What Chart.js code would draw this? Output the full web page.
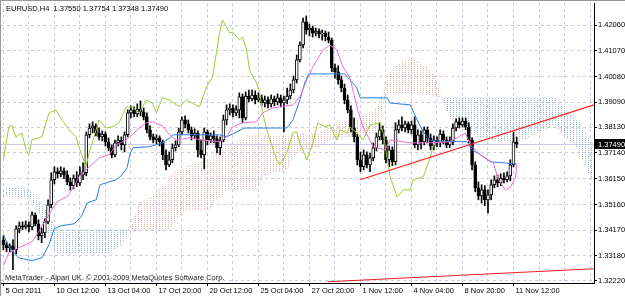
<!DOCTYPE html>
<html><head><meta charset="utf-8">
<script src="https://cdn.jsdelivr.net/npm/chart.js@4.4.0/dist/chart.umd.min.js"></script>
<style>html,body{margin:0;padding:0;background:#fff;overflow:hidden}canvas{display:block}</style>
</head><body>
<canvas id="c" width="625" height="296"></canvas>
<script>
const symbolTitle = 'EURUSD,H4  1.37550 1.37754 1.37348 1.37490';
const watermark = 'MetaTrader - Alpari UK. \u00A9 2001-2009 MetaQuotes Software Corp.';
const timeLabels = ['5 Oct 2011','10 Oct 12:00','13 Oct 04:00','17 Oct 20:00','20 Oct 12:00','25 Oct 04:00','27 Oct 20:00','1 Nov 12:00','4 Nov 04:00','8 Nov 20:00','11 Nov 12:00'];
const labelEvery = 16, gridEvery = 8;
const priceTicks = [1.4206,1.4107,1.4008,1.3909,1.3813,1.3714,1.3615,1.3516,1.3417,1.3318,1.3222];

const open = [
1.3380,1.3361,1.3350,1.3357,1.3342,1.3422,1.3434,1.3430,1.3438,1.3430,
1.3476,1.3442,1.3395,1.3407,1.3449,1.3515,1.3611,1.3642,1.3634,1.3645,
1.3630,1.3603,1.3588,1.3618,1.3599,1.3630,1.3638,1.3784,1.3810,1.3818,
1.3791,1.3776,1.3787,1.3757,1.3734,1.3707,1.3753,1.3764,1.3745,1.3784,
1.3868,1.3880,1.3864,1.3883,1.3872,1.3853,1.3803,1.3776,1.3764,1.3772,
1.3757,1.3707,1.3668,1.3688,1.3734,1.3745,1.3795,1.3841,1.3826,1.3803,
1.3780,1.3791,1.3726,1.3707,1.3795,1.3764,1.3780,1.3768,1.3734,1.3764,
1.3841,1.3880,1.3887,1.3868,1.3880,1.3930,1.3849,1.3933,1.3922,1.3937,
1.3918,1.3926,1.3906,1.3918,1.3903,1.3922,1.3910,1.3926,1.3906,1.3918,
1.3933,1.3956,1.3995,1.4072,1.4129,1.4218,1.4187,1.4194,1.4175,1.4183,
1.4171,1.4175,1.4160,1.4148,1.4041,1.4026,1.3995,1.3964,1.3918,1.3880,
1.3810,1.3776,1.3688,1.3661,1.3707,1.3668,1.3695,1.3734,1.3776,1.3803,
1.3764,1.3688,1.3726,1.3680,1.3803,1.3822,1.3810,1.3826,1.3803,1.3822,
1.3745,1.3784,1.3757,1.3803,1.3772,1.3741,1.3764,1.3753,1.3787,1.3764,
1.3745,1.3761,1.3810,1.3834,1.3822,1.3837,1.3814,1.3764,1.3668,1.3580,
1.3549,1.3572,1.3534,1.3553,1.3592,1.3611,1.3599,1.3618,1.3611,1.3626,
1.3668,1.3755];
const high = [
1.3396,1.3372,1.3365,1.3380,1.3434,1.3449,1.3449,1.3453,1.3449,1.3488,
1.3484,1.3457,1.3426,1.3461,1.3534,1.3638,1.3661,1.3657,1.3661,1.3657,
1.3645,1.3618,1.3630,1.3642,1.3661,1.3676,1.3795,1.3826,1.3834,1.3826,
1.3810,1.3799,1.3795,1.3772,1.3745,1.3764,1.3780,1.3776,1.3795,1.3880,
1.3895,1.3891,1.3903,1.3914,1.3887,1.3868,1.3818,1.3787,1.3784,1.3780,
1.3764,1.3726,1.3718,1.3749,1.3761,1.3810,1.3853,1.3857,1.3841,1.3814,
1.3807,1.3799,1.3764,1.3810,1.3803,1.3791,1.3799,1.3780,1.3776,1.3860,
1.3899,1.3903,1.3899,1.3895,1.3945,1.3941,1.3949,1.3956,1.3956,1.3953,
1.3945,1.3937,1.3933,1.3930,1.3937,1.3933,1.3941,1.3937,1.3933,1.3964,
1.3979,1.4010,1.4091,1.4141,1.4233,1.4241,1.4210,1.4202,1.4194,1.4191,
1.4187,1.4183,1.4179,1.4156,1.4056,1.4049,1.4010,1.3979,1.3937,1.3895,
1.3849,1.3787,1.3718,1.3726,1.3718,1.3714,1.3753,1.3791,1.3830,1.3818,
1.3776,1.3741,1.3738,1.3830,1.3841,1.3853,1.3837,1.3834,1.3837,1.3853,
1.3803,1.3799,1.3814,1.3814,1.3787,1.3780,1.3776,1.3803,1.3799,1.3776,
1.3776,1.3826,1.3845,1.3849,1.3849,1.3849,1.3830,1.3772,1.3680,1.3603,
1.3592,1.3588,1.3572,1.3611,1.3626,1.3630,1.3634,1.3638,1.3642,1.3688,
1.3795,1.37754];
const low = [
1.3342,1.3334,1.3334,1.3265,1.3326,1.3407,1.3419,1.3422,1.3411,1.3419,
1.3434,1.3380,1.3369,1.3388,1.3442,1.3503,1.3595,1.3618,1.3622,1.3615,
1.3592,1.3572,1.3576,1.3584,1.3588,1.3611,1.3626,1.3772,1.3791,1.3780,
1.3764,1.3761,1.3741,1.3722,1.3695,1.3699,1.3741,1.3726,1.3718,1.3776,
1.3849,1.3853,1.3853,1.3857,1.3841,1.3791,1.3764,1.3753,1.3749,1.3741,
1.3688,1.3649,1.3661,1.3676,1.3722,1.3738,1.3784,1.3810,1.3791,1.3764,
1.3768,1.3699,1.3695,1.3653,1.3745,1.3753,1.3753,1.3714,1.3707,1.3757,
1.3822,1.3860,1.3853,1.3857,1.3849,1.3830,1.3841,1.3910,1.3914,1.3903,
1.3910,1.3895,1.3891,1.3887,1.3891,1.3895,1.3899,1.3891,1.3795,1.3903,
1.3922,1.3945,1.3983,1.4064,1.4118,1.4171,1.4164,1.4160,1.4164,1.4156,
1.4148,1.4145,1.4137,1.4026,1.4002,1.3979,1.3949,1.3903,1.3868,1.3795,
1.3757,1.3668,1.3642,1.3649,1.3657,1.3642,1.3684,1.3722,1.3764,1.3749,
1.3676,1.3661,1.3665,1.3668,1.3791,1.3799,1.3795,1.3791,1.3787,1.3734,
1.3726,1.3730,1.3745,1.3753,1.3726,1.3726,1.3738,1.3738,1.3749,1.3734,
1.3734,1.3745,1.3799,1.3810,1.3814,1.3803,1.3753,1.3649,1.3565,1.3534,
1.3522,1.3511,1.3484,1.3534,1.3580,1.3584,1.3588,1.3599,1.3603,1.3607,
1.3661,1.37348];
const close = [
1.3361,1.3350,1.3357,1.3342,1.3422,1.3434,1.3430,1.3438,1.3430,1.3476,
1.3442,1.3395,1.3407,1.3449,1.3515,1.3611,1.3642,1.3634,1.3645,1.3630,
1.3603,1.3588,1.3618,1.3599,1.3630,1.3642,1.3784,1.3810,1.3818,1.3791,
1.3776,1.3787,1.3757,1.3734,1.3707,1.3753,1.3764,1.3745,1.3784,1.3868,
1.3880,1.3864,1.3883,1.3872,1.3853,1.3803,1.3776,1.3764,1.3772,1.3757,
1.3707,1.3668,1.3688,1.3734,1.3745,1.3795,1.3841,1.3826,1.3803,1.3780,
1.3791,1.3726,1.3707,1.3795,1.3764,1.3780,1.3768,1.3734,1.3764,1.3841,
1.3880,1.3887,1.3868,1.3880,1.3930,1.3849,1.3933,1.3922,1.3937,1.3918,
1.3926,1.3906,1.3918,1.3903,1.3922,1.3910,1.3926,1.3906,1.3918,1.3933,
1.3956,1.3995,1.4072,1.4129,1.4218,1.4187,1.4194,1.4175,1.4183,1.4171,
1.4175,1.4160,1.4148,1.4041,1.4026,1.3995,1.3964,1.3918,1.3880,1.3810,
1.3776,1.3688,1.3661,1.3707,1.3668,1.3695,1.3734,1.3776,1.3803,1.3764,
1.3688,1.3726,1.3680,1.3803,1.3822,1.3810,1.3826,1.3803,1.3822,1.3745,
1.3784,1.3757,1.3803,1.3772,1.3741,1.3764,1.3753,1.3787,1.3764,1.3745,
1.3761,1.3810,1.3834,1.3822,1.3837,1.3814,1.3764,1.3668,1.3580,1.3549,
1.3572,1.3534,1.3553,1.3592,1.3611,1.3599,1.3618,1.3611,1.3626,1.3668,
1.3757,1.3749];

const tenkanX = [0,1.7,4.8,8.9,10.5,12.1,13.3,15.2,16.8,20.0,21.5,23.7,25.9,30.0,33.2,35.4,38.5,40.4,42.6,44.8,46.7,49.9,52.1,54.3,58.4,62.4,67.8,70.0,71.9,75.0,79.4,81.3,84.5,90.8,93.0,95.2,97.1,100.2,102.4,104.6,106.5,108.7,110.9,112.8,116.0,119.7,121.3,127.6,133.9,140.2,142.7,144.9,146.5,149.6,153.7,155.3,157.5,159.1,160.7,161];
const tenkanY = [1.3281,1.3330,1.3350,1.3372,1.3399,1.3434,1.3457,1.3495,1.3526,1.3546,1.3572,1.3622,1.3649,1.3695,1.3707,1.3745,1.3764,1.3784,1.3810,1.3830,1.3834,1.3818,1.3784,1.3764,1.3772,1.3764,1.3757,1.3776,1.3814,1.3830,1.3834,1.3868,1.3887,1.3899,1.3930,1.3995,1.4045,1.4110,1.4129,1.4110,1.4045,1.4002,1.3891,1.3814,1.3738,1.3726,1.3764,1.3753,1.3753,1.3757,1.3776,1.3791,1.3745,1.3707,1.3676,1.3611,1.3572,1.3584,1.3622,1.3668];
const kijunX = [0,1.7,4.8,8.9,12.1,14.3,15.9,18.1,22.2,24.4,26.3,29.1,30.3,35.4,36.9,38.8,39.8,40.7,45.8,49.9,52.1,53.3,67.8,70.0,72.5,75.7,88.9,90.8,93.0,94.6,95.8,107.1,110.9,111.9,120.4,121.3,127.6,129.8,131.7,133.9,145.5,147.1,149.6,152.8,161];
const kijunY = [1.3400,1.3354,1.3311,1.3300,1.3311,1.3361,1.3422,1.3434,1.3442,1.3469,1.3522,1.3534,1.3592,1.3611,1.3626,1.3657,1.3714,1.3734,1.3738,1.3753,1.3772,1.3784,1.3784,1.3776,1.3791,1.3810,1.3810,1.3841,1.3918,1.3987,1.4018,1.4018,1.3964,1.3926,1.3926,1.3906,1.3899,1.3841,1.3795,1.3761,1.3757,1.3726,1.3707,1.3680,1.3672];
const chikouX = [0,1.7,2.6,3.9,5.8,7.1,8.0,8.9,12.1,14.3,16.5,18.4,20.6,22.8,23.7,25.9,26.9,30.0,32.2,34.1,36.3,38.5,40.4,42.6,44.8,46.7,48.0,49.9,52.1,55.2,57.4,61.5,63.7,65.6,67.8,68.7,71.0,71.9,74.1,75.0,76.3,77.2,79.4,80.4,81.3,82.9,85.7,86.7,88.9,90.8,92.0,93.0,95.2,97.1,98.6,100.9,102.4,104.6,105.6,107.8,108.7,110.9,112.8,115.0,118.2,119.1,121.3,123.5,125.4,127.6,128.5,131.7,133.9,135];
const chikouY = [1.3688,1.3814,1.3822,1.3776,1.3791,1.3726,1.3707,1.3764,1.3776,1.3868,1.3880,1.3841,1.3803,1.3776,1.3738,1.3661,1.3714,1.3841,1.3810,1.3814,1.3830,1.3891,1.3891,1.3868,1.3918,1.3906,1.3868,1.3926,1.3918,1.3891,1.3918,1.3891,1.3968,1.4006,1.4175,1.4225,1.4175,1.4179,1.4148,1.4160,1.4110,1.4033,1.3983,1.3945,1.3868,1.3791,1.3688,1.3668,1.3714,1.3791,1.3795,1.3753,1.3688,1.3753,1.3830,1.3814,1.3822,1.3764,1.3803,1.3791,1.3814,1.3791,1.3764,1.3822,1.3830,1.3791,1.3622,1.3545,1.3572,1.3572,1.3611,1.3622,1.3699,1.3749];
const spanX = [0,4.8,8.0,11.1,14.3,16.5,33.2,36.3,38.5,40.4,42.6,46.7,48.9,52.1,53.0,56.2,57.4,64.6,65.6,68.7,70.0,73.2,76.3,79.4,80.4,82.6,88.9,90.8,93.9,99.3,102.4,107.1,111.9,116.6,118.2,119.7,121.3,123.5,127.6,130.7,133.9,136.1,137.7,140.2,142.5,148.7,159.1,163.2,167.6,172.6,175.8,180.2,184.3,185.25];
const spanA = [1.3549,1.3546,1.3538,1.3488,1.3400,1.3330,1.3330,1.3354,1.3380,1.3438,1.3522,1.3546,1.3572,1.3618,1.3638,1.3649,1.3661,1.3688,1.3699,1.3726,1.3738,1.3753,1.3776,1.3787,1.3791,1.3780,1.3776,1.3780,1.3791,1.3791,1.3810,1.3834,1.3849,1.3880,1.3918,1.3964,1.4026,1.4052,1.4079,1.4060,1.4033,1.3987,1.3918,1.3849,1.3830,1.3776,1.3753,1.3764,1.3791,1.3822,1.3784,1.3726,1.3618,1.3603];
const spanB = [1.3580,1.3580,1.3576,1.3534,1.3476,1.3419,1.3419,1.3419,1.3419,1.3419,1.3419,1.3419,1.3419,1.3419,1.3438,1.3484,1.3495,1.3495,1.3522,1.3553,1.3572,1.3572,1.3572,1.3572,1.3599,1.3638,1.3649,1.3699,1.3726,1.3738,1.3764,1.3776,1.3776,1.3791,1.3841,1.3937,1.3945,1.3945,1.3945,1.3945,1.3937,1.3930,1.3926,1.3926,1.3926,1.3926,1.3926,1.3926,1.3926,1.3926,1.3887,1.3834,1.3764,1.3734];
const trendX = [111.9,185.25], trendY = [1.3611,1.3899];
const lowLineX = [101.8,185.25], lowLineY = [1.3219,1.3269];

const pts = (xs, ys) => xs.map((x, i) => ({x, y: ys[i]}));
function dotPattern(color) {
  const c = document.createElement('canvas'); c.width = 3; c.height = 2;
  const g = c.getContext('2d'); g.fillStyle = color; g.fillRect(0, 0, 1, 1);
  return g.createPattern(c, 'repeat');
}
const peach = dotPattern('rgb(236,178,166)');
const slate = dotPattern('rgb(150,182,198)');
const FONT = '"Liberation Sans", Arial, sans-serif';
const bid = close[close.length - 1];

const overlay = {
  id: 'overlay',
  beforeDatasetsDraw(chart) {
    const {ctx, chartArea: a, scales: {y}} = chart;
    const py = Math.round(y.getPixelForValue(bid)) + 0.5;
    ctx.save(); ctx.strokeStyle = 'rgb(204,204,238)'; ctx.lineWidth = 1;
    ctx.beginPath(); ctx.moveTo(a.left, py); ctx.lineTo(a.right, py); ctx.stroke(); ctx.restore();
  },
  afterDraw(chart) {
    const {ctx, chartArea: a, scales: {y}} = chart;
    ctx.save();
    ctx.fillStyle = 'rgb(150,150,150)';
    ctx.fillRect(0, 0, chart.width, 1); ctx.fillRect(0, 0, 1, chart.height);
    ctx.font = '7.5px ' + FONT; ctx.textBaseline = 'alphabetic'; ctx.textAlign = 'left';
    ctx.fillStyle = '#000'; ctx.fillText(symbolTitle, 6, 11);
    ctx.fillStyle = '#222'; ctx.fillText(watermark, 5, 280);
    const py = Math.round(y.getPixelForValue(bid));
    ctx.fillStyle = '#000'; ctx.fillRect(a.right + 1, py - 5, chart.width - a.right - 1, 10);
    ctx.fillStyle = '#fff'; ctx.textBaseline = 'middle'; ctx.fillText(bid.toFixed(5), a.right + 4, py + 0.5);
    ctx.restore();
  }
};

const gridCol = 'rgb(202,205,224)';
new Chart(document.getElementById('c'), {
  type: 'bar',
  data: { datasets: [
    { type: 'line', label: 'Senkou Span A', data: pts(spanX, spanA), borderColor: 'rgba(226,160,140,0.45)', borderWidth: 1, borderDash: [1, 2], pointRadius: 0, tension: 0,
      fill: { target: '+1', above: peach, below: slate }, order: 20 },
    { type: 'line', label: 'Senkou Span B', data: pts(spanX, spanB), borderColor: 'rgba(130,170,185,0.45)', borderWidth: 1, borderDash: [1, 2], pointRadius: 0, tension: 0, fill: false, order: 19 },
    { label: 'wick', data: open.map((o, i) => ({x: i, y: [low[i], high[i]]})), backgroundColor: '#000', borderWidth: 0, barThickness: 1, grouped: false, order: 10 },
    { label: 'body', data: open.map((o, i) => ({x: i, y: [o, close[i]]})), backgroundColor: open.map((o, i) => close[i] >= o ? '#fff' : '#000'),
      borderColor: '#000', borderWidth: 1, borderSkipped: false, barThickness: 3, minBarLength: 1, grouped: false, order: 9 },
    { type: 'line', label: 'Chikou Span', data: pts(chikouX, chikouY), borderColor: 'rgb(154,205,50)', borderWidth: 1, pointRadius: 0, tension: 0, fill: false, order: 5 },
    { type: 'line', label: 'Kijun-sen', data: pts(kijunX, kijunY), borderColor: 'rgb(40,125,235)', borderWidth: 1, pointRadius: 0, tension: 0, fill: false, order: 4 },
    { type: 'line', label: 'Tenkan-sen', data: pts(tenkanX, tenkanY), borderColor: 'rgb(236,110,210)', borderWidth: 1, pointRadius: 0, tension: 0, fill: false, order: 3 },
    { type: 'line', label: 'Trend', data: pts(trendX, trendY), borderColor: 'rgb(255,30,30)', borderWidth: 1.2, pointRadius: 0, fill: false, order: 1 },
    { type: 'line', label: 'Trend 2', data: pts(lowLineX, lowLineY), borderColor: 'rgb(240,30,30)', borderWidth: 1.2, pointRadius: 0, fill: false, order: 1 }
  ]},
  options: {
    responsive: false, animation: false, devicePixelRatio: 1, events: [],
    layout: { padding: { left: 1, top: 3, right: 0, bottom: 0 } },
    plugins: { legend: { display: false }, tooltip: { enabled: false } },
    font: { family: FONT, size: 7.5 },
    scales: {
      x: {
        type: 'linear', min: -0.75, max: 185.25, offset: false,
        afterBuildTicks: s => { const t = []; for (let v = 0; v <= 184; v += gridEvery) t.push({value: v}); s.ticks = t; },
        afterFit: s => { s.height = 13; s.paddingLeft = 0; s.paddingRight = 0; s.paddingTop = 0; s.paddingBottom = 0; },
        ticks: { autoSkip: false, maxRotation: 0, minRotation: 0, padding: 0, labelOffset: 2, align: 'start', color: '#000',
          font: { family: FONT, size: 7.5 },
          callback: v => (v % labelEvery === 0 && timeLabels[v / labelEvery]) ? timeLabels[v / labelEvery] : '' },
        grid: { offset: false, color: gridCol, lineWidth: 1, tickLength: 3,
          tickColor: c => (c.tick && c.tick.value % labelEvery === 0 && c.tick.value / labelEvery < timeLabels.length) ? '#000' : 'rgba(0,0,0,0)' },
        border: { display: true, color: '#000', width: 1, dash: [3, 3] }
      },
      y: {
        position: 'right', min: 1.32142, max: 1.42906,
        afterBuildTicks: s => { s.ticks = priceTicks.map(v => ({value: v})); },
        afterFit: s => { s.width = 31; s.paddingLeft = 0; s.paddingRight = 0; s.paddingTop = 0; s.paddingBottom = 0; },
        ticks: { autoSkip: false, padding: 1, color: '#000', font: { family: FONT, size: 7.5 }, callback: v => Number(v).toFixed(5) },
        grid: { color: gridCol, lineWidth: 1, tickLength: 3, tickColor: '#000' },
        border: { display: true, color: '#000', width: 1, dash: [3, 3] }
      }
    }
  },
  plugins: [overlay]
});
</script>
</body></html>
